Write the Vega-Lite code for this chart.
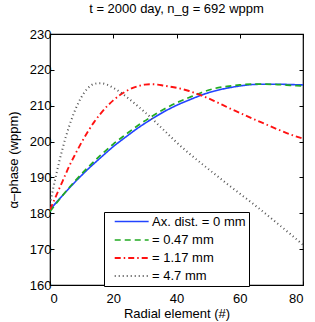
{
  "$schema": "https://vega.github.io/schema/vega-lite/v6.json",
  "autosize": "none",
  "width": 253,
  "height": 251,
  "padding": {"left": 50, "top": 34, "right": 12, "bottom": 37},
  "config": {
    "font": "Liberation Sans",
    "view": {"stroke": "black", "strokeWidth": 1.2},
    "axis": {"domain": false, "grid": false, "tickColor": "black", "tickSize": -4, "labelColor": "black", "labelFontSize": 13, "titleFontSize": 13, "titleFontWeight": "normal", "titleColor": "black", "labelFont": "Liberation Sans", "titleFont": "Liberation Sans"}
  },
  "title": {"text": "t = 2000 day,   n_g = 692 wppm", "fontSize": 13, "fontWeight": "normal", "font": "Liberation Sans", "offset": 12, "color": "black"},
  "data": {"values": [
    {"x":0,"v":181.0,"s":"Ax. dist. = 0 mm"},{"x":4,"v":185.0,"s":"Ax. dist. = 0 mm"},{"x":8,"v":188.8,"s":"Ax. dist. = 0 mm"},{"x":12,"v":192.3,"s":"Ax. dist. = 0 mm"},{"x":16,"v":195.5,"s":"Ax. dist. = 0 mm"},{"x":20,"v":198.6,"s":"Ax. dist. = 0 mm"},{"x":24,"v":201.3,"s":"Ax. dist. = 0 mm"},{"x":28,"v":203.9,"s":"Ax. dist. = 0 mm"},{"x":32,"v":206.2,"s":"Ax. dist. = 0 mm"},{"x":36,"v":208.3,"s":"Ax. dist. = 0 mm"},{"x":40,"v":210.1,"s":"Ax. dist. = 0 mm"},{"x":44,"v":211.6,"s":"Ax. dist. = 0 mm"},{"x":48,"v":213.0,"s":"Ax. dist. = 0 mm"},{"x":52,"v":214.1,"s":"Ax. dist. = 0 mm"},{"x":56,"v":214.9,"s":"Ax. dist. = 0 mm"},{"x":60,"v":215.5,"s":"Ax. dist. = 0 mm"},{"x":64,"v":215.9,"s":"Ax. dist. = 0 mm"},{"x":68,"v":216.0,"s":"Ax. dist. = 0 mm"},{"x":72,"v":216.0,"s":"Ax. dist. = 0 mm"},{"x":76,"v":215.9,"s":"Ax. dist. = 0 mm"},{"x":80,"v":215.8,"s":"Ax. dist. = 0 mm"},
    {"x":0,"v":180.5,"s":"= 0.47 mm"},{"x":4,"v":185.0,"s":"= 0.47 mm"},{"x":8,"v":189.1,"s":"= 0.47 mm"},{"x":12,"v":192.8,"s":"= 0.47 mm"},{"x":16,"v":196.2,"s":"= 0.47 mm"},{"x":20,"v":199.3,"s":"= 0.47 mm"},{"x":24,"v":202.0,"s":"= 0.47 mm"},{"x":28,"v":204.6,"s":"= 0.47 mm"},{"x":32,"v":206.9,"s":"= 0.47 mm"},{"x":36,"v":209.0,"s":"= 0.47 mm"},{"x":40,"v":210.8,"s":"= 0.47 mm"},{"x":44,"v":212.3,"s":"= 0.47 mm"},{"x":48,"v":213.7,"s":"= 0.47 mm"},{"x":52,"v":214.8,"s":"= 0.47 mm"},{"x":56,"v":215.4,"s":"= 0.47 mm"},{"x":60,"v":215.8,"s":"= 0.47 mm"},{"x":64,"v":216.0,"s":"= 0.47 mm"},{"x":68,"v":216.0,"s":"= 0.47 mm"},{"x":72,"v":215.9,"s":"= 0.47 mm"},{"x":76,"v":215.7,"s":"= 0.47 mm"},{"x":80,"v":215.5,"s":"= 0.47 mm"},
    {"x":0,"v":181.0,"s":"= 1.17 mm"},{"x":2,"v":185.0,"s":"= 1.17 mm"},{"x":4,"v":189.0,"s":"= 1.17 mm"},{"x":6,"v":193.0,"s":"= 1.17 mm"},{"x":8,"v":196.5,"s":"= 1.17 mm"},{"x":10,"v":199.8,"s":"= 1.17 mm"},{"x":12,"v":202.8,"s":"= 1.17 mm"},{"x":14,"v":205.5,"s":"= 1.17 mm"},{"x":16,"v":207.8,"s":"= 1.17 mm"},{"x":18,"v":209.8,"s":"= 1.17 mm"},{"x":20,"v":211.5,"s":"= 1.17 mm"},{"x":22,"v":212.9,"s":"= 1.17 mm"},{"x":24,"v":214.0,"s":"= 1.17 mm"},{"x":26,"v":214.9,"s":"= 1.17 mm"},{"x":28,"v":215.5,"s":"= 1.17 mm"},{"x":30,"v":215.9,"s":"= 1.17 mm"},{"x":32,"v":216.0,"s":"= 1.17 mm"},{"x":34,"v":215.9,"s":"= 1.17 mm"},{"x":36,"v":215.6,"s":"= 1.17 mm"},{"x":40,"v":215.0,"s":"= 1.17 mm"},{"x":44,"v":214.1,"s":"= 1.17 mm"},{"x":48,"v":212.8,"s":"= 1.17 mm"},{"x":52,"v":211.3,"s":"= 1.17 mm"},{"x":56,"v":209.6,"s":"= 1.17 mm"},{"x":60,"v":208.0,"s":"= 1.17 mm"},{"x":64,"v":206.4,"s":"= 1.17 mm"},{"x":68,"v":204.9,"s":"= 1.17 mm"},{"x":72,"v":203.4,"s":"= 1.17 mm"},{"x":76,"v":202.0,"s":"= 1.17 mm"},{"x":80,"v":200.8,"s":"= 1.17 mm"},
    {"x":0,"v":182.5,"s":"= 4.7 mm"},{"x":1,"v":186.9,"s":"= 4.7 mm"},{"x":2,"v":190.9,"s":"= 4.7 mm"},{"x":3,"v":194.7,"s":"= 4.7 mm"},{"x":4,"v":198.1,"s":"= 4.7 mm"},{"x":5,"v":201.3,"s":"= 4.7 mm"},{"x":6,"v":204.1,"s":"= 4.7 mm"},{"x":8,"v":208.9,"s":"= 4.7 mm"},{"x":10,"v":212.5,"s":"= 4.7 mm"},{"x":12,"v":214.9,"s":"= 4.7 mm"},{"x":14,"v":216.1,"s":"= 4.7 mm"},{"x":16,"v":216.3,"s":"= 4.7 mm"},{"x":18,"v":215.9,"s":"= 4.7 mm"},{"x":20,"v":215.0,"s":"= 4.7 mm"},{"x":22,"v":213.9,"s":"= 4.7 mm"},{"x":24,"v":212.6,"s":"= 4.7 mm"},{"x":26,"v":211.2,"s":"= 4.7 mm"},{"x":28,"v":209.7,"s":"= 4.7 mm"},{"x":30,"v":208.2,"s":"= 4.7 mm"},{"x":32,"v":206.6,"s":"= 4.7 mm"},{"x":34,"v":204.9,"s":"= 4.7 mm"},{"x":36,"v":203.2,"s":"= 4.7 mm"},{"x":38,"v":201.5,"s":"= 4.7 mm"},{"x":40,"v":199.8,"s":"= 4.7 mm"},{"x":42,"v":198.2,"s":"= 4.7 mm"},{"x":44,"v":196.7,"s":"= 4.7 mm"},{"x":48,"v":193.8,"s":"= 4.7 mm"},{"x":52,"v":191.0,"s":"= 4.7 mm"},{"x":56,"v":188.2,"s":"= 4.7 mm"},{"x":60,"v":185.5,"s":"= 4.7 mm"},{"x":64,"v":182.8,"s":"= 4.7 mm"},{"x":68,"v":180.0,"s":"= 4.7 mm"},{"x":72,"v":177.1,"s":"= 4.7 mm"},{"x":76,"v":174.2,"s":"= 4.7 mm"},{"x":80,"v":171.2,"s":"= 4.7 mm"}
  ]},
  "layer": [
    {
      "mark": {"type": "line", "interpolate": "monotone", "clip": true},
      "encoding": {
        "x": {"field": "x", "type": "quantitative", "scale": {"domain": [0, 80], "nice": false}, "axis": {"values": [0, 20, 40, 60, 80], "title": "Radial element (#)", "labelPadding": 11, "titlePadding": 2}},
        "y": {"field": "v", "type": "quantitative", "scale": {"domain": [160, 230], "nice": false, "zero": false}, "axis": {"values": [160, 170, 180, 190, 200, 210, 220, 230], "title": "α–phase (wppm)", "labelPadding": 3, "titlePadding": 9}},
        "color": {"field": "s", "type": "nominal", "scale": {"domain": ["Ax. dist. = 0 mm", "= 0.47 mm", "= 1.17 mm", "= 4.7 mm"], "range": ["#2244ff", "#22aa22", "#ff1111", "#555555"]},
          "legend": {"title": null, "orient": "none", "legendX": 54, "legendY": 178, "symbolType": "M-5,0H1", "symbolSize": 128, "symbolStrokeWidth": 1.5, "symbolOffset": 29, "labelFontSize": 13, "labelColor": "black", "labelFont": "Liberation Sans", "strokeColor": "black", "fillColor": "white", "padding": 3, "rowPadding": 4, "labelOffset": 2, "cornerRadius": 0}},
        "strokeDash": {"field": "s", "type": "nominal", "scale": {"domain": ["Ax. dist. = 0 mm", "= 0.47 mm", "= 1.17 mm", "= 4.7 mm"], "range": [[1, 0], [6, 4], [6, 3, 1.5, 3], [1, 3]]}, "legend": {"title": null}},
        "strokeWidth": {"field": "s", "type": "nominal", "scale": {"domain": ["Ax. dist. = 0 mm", "= 0.47 mm", "= 1.17 mm", "= 4.7 mm"], "range": [1.6, 2, 1.6, 1.2]}, "legend": null},
        "order": {"field": "x"}
      }
    },
    {
      "mark": {"type": "line", "opacity": 0},
      "encoding": {
        "x": {"field": "x", "type": "quantitative", "axis": {"orient": "top", "values": [0, 20, 40, 60, 80], "labels": false, "title": null}},
        "y": {"field": "v", "type": "quantitative", "axis": {"orient": "right", "values": [160, 170, 180, 190, 200, 210, 220, 230], "labels": false, "title": null}},
        "detail": {"field": "s"}
      }
    }
  ],
  "resolve": {"axis": {"x": "independent", "y": "independent"}}
}
